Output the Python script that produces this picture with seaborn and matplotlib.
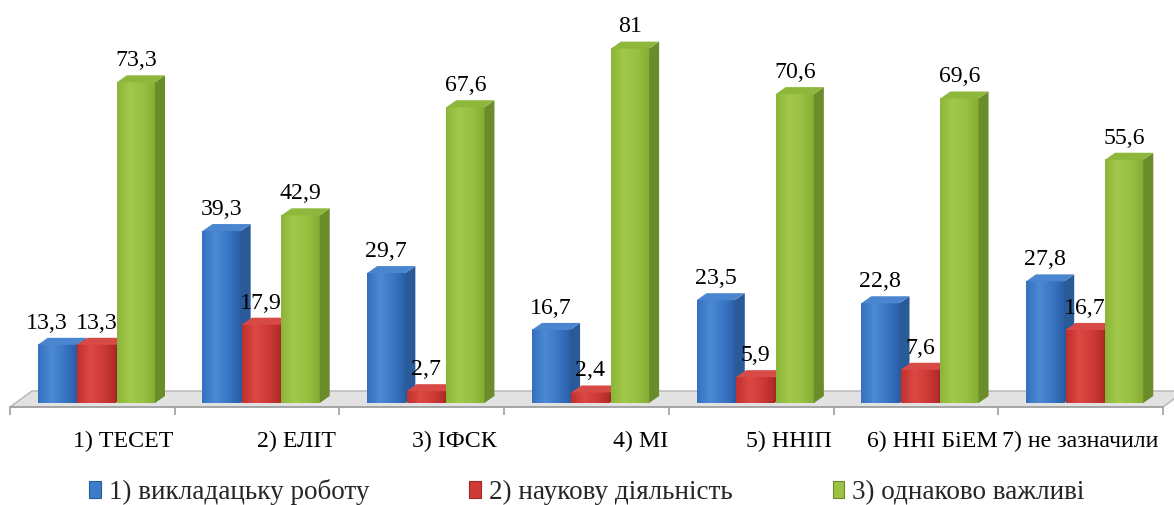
import numpy as np
import pandas as pd
import matplotlib
matplotlib.use("Agg")
import matplotlib.pyplot as plt
import seaborn as sns
from matplotlib.patches import Polygon, Patch
from matplotlib.colors import LinearSegmentedColormap
from matplotlib.transforms import blended_transform_factory

# ---- data -------------------------------------------------------------
categories = ['1) ТЕСЕТ', '2) ЕЛІТ', '3) ІФСК', '4) МІ', '5) ННІП',
              '6) ННІ БіЕМ', '7) не зазначили']
series = ['1) викладацьку роботу', '2) наукову діяльність', '3) однаково важливі']
teaching = [13.3, 39.3, 29.7, 16.7, 23.5, 22.8, 27.8]
research = [13.3, 17.9, 2.7, 2.4, 5.9, 7.6, 16.7]
equal = [73.3, 42.9, 67.6, 81, 70.6, 69.6, 55.6]

# ---- style ------------------------------------------------------------
front = ['#3d7cc9', '#cf3a36', '#9bc243']
front_grad = [['#3470bd', '#4c8ad6', '#3a78c6', '#2a5ea6'],
              ['#c0302d', '#dc4844', '#cf3b37', '#b02a27'],
              ['#8cb638', '#a3c84c', '#98c042', '#86ad34']]
side = ['#2b5a99', '#9c2927', '#6a8c2b']
top = ['#4a86d0', '#d84a46', '#8db83b']
label_nudge_px = [31, 39, 33, 54, 38, 16, 0]

sns.set_theme(style='white')
plt.rcParams['font.family'] = ['Liberation Serif', 'DejaVu Serif']
FS = 17.2

W, H = 1174, 505
fig = plt.figure(figsize=(W / 100, H / 100), dpi=100)

px_x = 1153 / 7          # pixels per category
px_y = 4.375             # pixels per percent
y_front = -4 / px_y
y_back = 12 / px_y
ax = fig.add_axes([10 / W, (505 - 407) / H, 1153 / W, (407 - 18) / H])

rows = []
for s, vals in zip(series, [teaching, research, equal]):
    for c, v in zip(categories, vals):
        rows.append({'category': c, 'series': s, 'value': v})
df = pd.DataFrame(rows)

sns.barplot(data=df, x='category', y='value', hue='series', palette=front,
            width=0.72, dodge=True, gap=0, saturation=1, legend=False,
            linewidth=0, ax=ax)

# collect the bars seaborn drew, with their series index
bars = []
n = len(categories)
for k, p in enumerate(ax.patches):
    bars.append((p, k // n, k % n))
bars.sort(key=lambda t: t[0].get_x())

dx = 10 / px_x
dy = 7 / px_y
shrink = 0.004
shift = 4 / px_x
heights = {(s, c): p.get_height() for p, s, c in bars}
for i, (p, s_idx, c_idx) in enumerate(bars):
    x0 = p.get_x() + shrink + shift
    w = p.get_width() - 2 * shrink
    h = p.get_height()
    x1 = x0 + w
    z = 3 + i * 0.01
    p.set_x(x0)
    p.set_width(w)
    p.set_zorder(z)
    cmap = LinearSegmentedColormap.from_list('g%d' % s_idx, front_grad[s_idx])
    ax.imshow(np.linspace(0, 1, 64).reshape(1, -1), extent=(x0, x1, 0, h),
              aspect='auto', cmap=cmap, zorder=z + 0.001, interpolation='bicubic')
    ax.add_patch(Polygon([(x1, 0), (x1 + dx, dy), (x1 + dx, h + dy), (x1, h)],
                         closed=True, facecolor=side[s_idx], linewidth=0,
                         zorder=z + 0.002))
    ax.add_patch(Polygon([(x0, h), (x0 + dx, h + dy), (x1 + dx, h + dy), (x1, h)],
                         closed=True, facecolor=top[s_idx], linewidth=0,
                         zorder=z + 0.003))
    # move a label aside when its right neighbour sits at the same height
    nx = 0
    nb = heights.get((s_idx + 1, c_idx))
    if nb is not None and abs(nb - h) < 3:
        nx = -10
    txt = ('%g' % h).replace('.', ',')
    ax.annotate(txt, (x0 + w / 2, h + dy), xytext=(nx * 0.72, 3),
                textcoords='offset points', ha='center', va='bottom',
                fontsize=FS, color='black', zorder=10)

# floor
dxf = 22 / px_x
floor = Polygon([(-0.5, y_front), (-0.5 + dxf, y_back), (6.5 + dxf, y_back),
                 (6.5, y_front)], closed=True, facecolor='#e2e2e2',
                edgecolor='#b5b5b5', linewidth=1.0, zorder=1, clip_on=False)
ax.add_patch(floor)

ax.set_xlim(-0.5, 6.5)
ax.set_ylim(y_front, y_front + (407 - 18) / px_y)

for s in ['top', 'right', 'left']:
    ax.spines[s].set_visible(False)
ax.spines['bottom'].set_color('#a0a0a0')
ax.spines['bottom'].set_linewidth(1.2)
ax.set_xticks(np.arange(-0.5, 7, 1))
ax.set_xticklabels([])
ax.tick_params(axis='x', bottom=True, length=6, width=1.2, color='#a0a0a0',
               direction='out')
ax.set_yticks([])
ax.set_xlabel('')
ax.set_ylabel('')

tr = blended_transform_factory(ax.transData, fig.transFigure)
for i, c in enumerate(categories):
    ax.text(i + label_nudge_px[i] / px_x, (505 - 447) / H, c, transform=tr,
            ha='center', va='baseline', fontsize=FS, color='black')

handles = [Patch(facecolor=front[k], edgecolor=side[k], linewidth=0.8)
           for k in range(3)]
fig.legend(handles, series, loc='center', bbox_to_anchor=(0.5, 1 - 492 / H),
           ncol=3, frameon=False, fontsize=19.5, handlelength=0.42,
           handleheight=0.55, handletextpad=0.3, columnspacing=3.7,
           borderpad=0)

fig.savefig('out.png', dpi=100)
